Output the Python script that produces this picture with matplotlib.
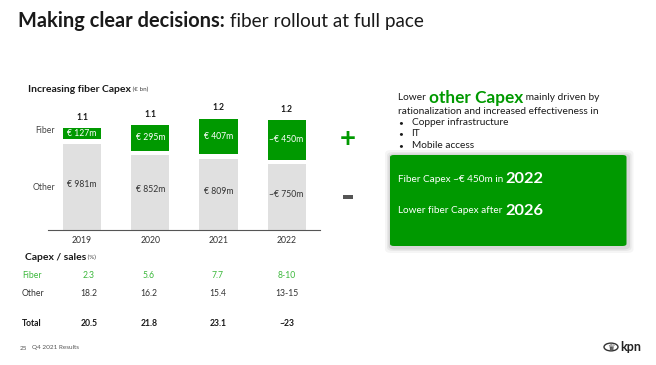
import matplotlib
matplotlib.use("Agg")
import matplotlib.pyplot as plt
from matplotlib.patches import FancyBboxPatch, Circle, Rectangle
import numpy as np

years = ["2019", "2020", "2021", "2022"]
fiber = [127, 295, 407, 450]
other = [981, 852, 809, 750]
fiber_labels = ["€ 127m", "€ 295m", "€ 407m", "~€ 450m"]
other_labels = ["€ 981m", "€ 852m", "€ 809m", "~€ 750m"]
totals = ["1.1", "1.1", "1.2", "1.2"]

ratio_rows = ["Fiber", "Other", "Total"]
ratio_fiber = ["2.3", "5.6", "7.7", "8-10"]
ratio_other = ["18.2", "16.2", "15.4", "13-15"]
ratio_total = ["20.5", "21.8", "23.1", "~23"]

bullets = ["Copper infrastructure", "IT", "Mobile access"]

GREEN = "#009900"
LGREEN = "#3cb83c"
GRAY = "#e0e0e0"
DARK = "#1a1a1a"

plt.rcParams['font.family'] = ['Lato', 'DejaVu Sans']

W, H = 656, 365
fig = plt.figure(figsize=(W / 100, H / 100), dpi=100)
fig.patch.set_facecolor("white")


def P(x, y):
    return x / W, 1 - y / H


def txt(x, y, s, **kw):
    kw.setdefault("va", "center")
    return fig.text(*P(x, y), s, **kw)


renderer = fig.canvas.get_renderer()


def after(t, s, gap=0, **kw):
    bb = t.get_window_extent(renderer=renderer)
    x1 = bb.x1 / fig.dpi / fig.get_size_inches()[0]
    y = t.get_position()[1]
    kw.setdefault("va", t.get_va())
    return fig.text(x1 + gap / W, y, s, **kw)


# Title
t = txt(18, 21, "Making clear decisions:", fontsize=14.4, fontweight="bold", color=DARK)
after(t, " fiber rollout at full pace", fontsize=13.6, color=DARK)

# Bar chart
scale = 0.088  # px per unit
ymax = 1400
ax_bottom = 230
ax_h = ymax * scale
ax = fig.add_axes([48 / W, (H - ax_bottom) / H, (320 - 48) / W, ax_h / H])
x = np.arange(len(years))
ax.set_xlim(-0.5, 3.49)
ax.set_ylim(0, ymax)
gap = 50
bw = 0.56
ax.bar(x, other, width=bw, color=GRAY, zorder=2)
bottoms = [o + gap for o in other]
ax.bar(x, fiber, width=bw, bottom=bottoms, color=GREEN, zorder=2)
for i in range(len(years)):
    ax.text(x[i], other[i] / 2 + 30, other_labels[i], ha="center", va="center", fontsize=6.2, color="#333333")
    ax.text(x[i], bottoms[i] + fiber[i] / 2, fiber_labels[i], ha="center", va="center", fontsize=6.2, color="white")
    ax.text(x[i], bottoms[i] + fiber[i] + 70, totals[i], ha="center", va="bottom", fontsize=6.2, fontweight="bold", color=DARK)
for s in ["top", "right", "left"]:
    ax.spines[s].set_visible(False)
ax.spines["bottom"].set_color("#555555")
ax.spines["bottom"].set_linewidth(0.8)
ax.set_yticks([])
ax.set_xticks(x)
ax.set_xticklabels(years, fontsize=6.2, color="#333333")
ax.tick_params(axis="x", length=0, pad=4)
ax.patch.set_alpha(0)

txt(55, 130.5, "Fiber", ha="right", fontsize=6.2, color="#444444")
txt(55, 187, "Other", ha="right", fontsize=6.2, color="#444444")

t = txt(28, 89, "Increasing fiber Capex", fontsize=7.5, fontweight="bold", color=DARK)
after(t, " (€ bn)", fontsize=4.5, color="#444444")

# Capex / sales table
t = txt(25, 257, "Capex / sales", fontsize=7.5, fontweight="bold", color=DARK)
after(t, " (%)", fontsize=4.5, color="#444444")
col_x = [89, 149, 218, 287]
row_y = [275, 293.5, 324]
row_vals = [ratio_fiber, ratio_other, ratio_total]
row_colors = [LGREEN, "#333333", DARK]
for r, (lab, vals, c, yy) in enumerate(zip(ratio_rows, row_vals, row_colors, row_y)):
    fw = "bold" if r == 2 else "normal"
    txt(22, yy, lab, fontsize=6.2, color=c, fontweight=fw)
    for cx, v in zip(col_x, vals):
        txt(cx, yy, v, ha="center", fontsize=6.2, color=c, fontweight=fw)

# Footer
txt(20, 348, "25", fontsize=4.6, color="#555555")
txt(32, 348, "Q4 2021 Results", fontsize=4.6, color="#555555")

# Right side text
t = txt(398, 98, "Lower ", fontsize=7.3, color=DARK)
t2 = after(t, "other Capex", fontsize=12.4, fontweight="bold", color=GREEN)
after(t2, " mainly driven by", fontsize=7.3, color=DARK)
txt(398, 111, "rationalization and increased effectiveness in", fontsize=7.3, color=DARK)
for yy, b in zip([122.5, 133.5, 145.5], bullets):
    txt(401, yy, "•", fontsize=6, color=DARK, ha="center")
    txt(411.5, yy, b, fontsize=7.3, color=DARK)

# Plus / minus
txt(348, 139, "+", fontsize=20, fontweight="bold", color=GREEN, ha="center")
fig.add_artist(Rectangle(P(343, 198.7), 9.7 / W, 3.7 / H, transform=fig.transFigure,
                         facecolor="#555555", edgecolor="none"))

# Green box with shadow
bx0, by0, bx1, by1 = 390, 155, 626.5, 246
for k, a in zip([6, 4, 2.5], [0.04, 0.05, 0.07]):
    sh = FancyBboxPatch(P(bx0 - k + 1, by1 + k + 1), (bx1 - bx0 + 2 * k) / W, (by1 - by0 + 2 * k) / H,
                        boxstyle="round,pad=0,rounding_size=0.01", transform=fig.transFigure,
                        facecolor="black", edgecolor="none", alpha=a, zorder=1)
    fig.add_artist(sh)
box = FancyBboxPatch(P(bx0, by1), (bx1 - bx0) / W, (by1 - by0) / H,
                     boxstyle="round,pad=0,rounding_size=0.006", transform=fig.transFigure,
                     facecolor=GREEN, edgecolor="none", zorder=2)
fig.add_artist(box)
t = txt(398, 179, "Fiber Capex ~€ 450m in ", fontsize=7.2, color="white", zorder=3)
after(t, "2022", fontsize=11.8, fontweight="bold", color="white", zorder=3)
t = txt(398, 211, "Lower fiber Capex after ", fontsize=7.2, color="white", zorder=3)
after(t, "2026", fontsize=11.8, fontweight="bold", color="white", zorder=3)

# kpn logo (simplified)
logo = Circle(P(611, 347), 7 / W, transform=fig.transFigure, facecolor="none", edgecolor="#333333", lw=1.0)
fig.add_artist(logo)
txt(611, 348, "♛", fontsize=6, color="#333333", ha="center", family=["DejaVu Sans"])
txt(620, 347, "kpn", fontsize=9, fontweight="bold", color="#222222")

fig.savefig("out.png", dpi=100)
